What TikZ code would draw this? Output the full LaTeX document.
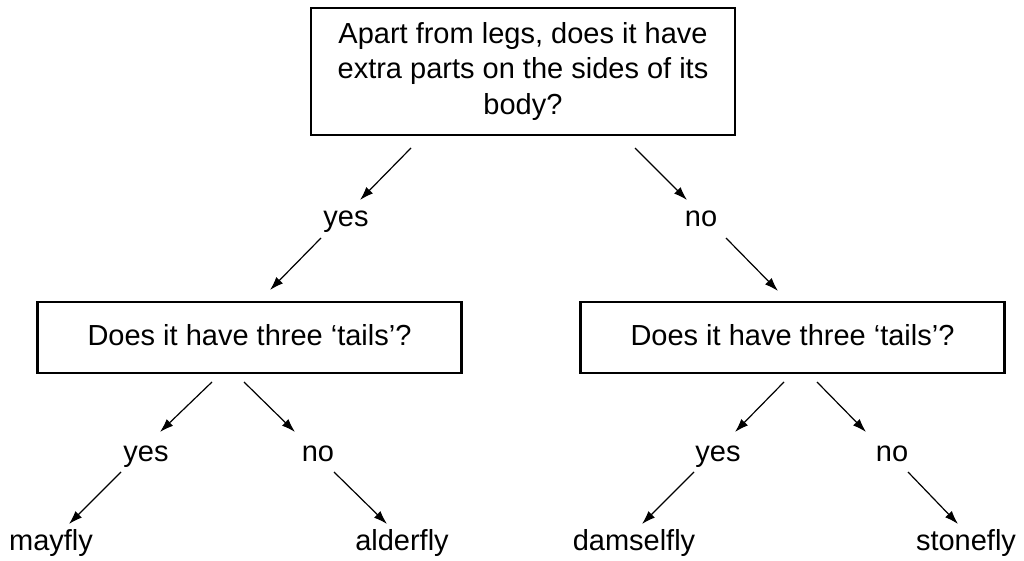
\documentclass[tikz,border=0pt]{standalone}
\usepackage{fontspec}
\setmainfont{Liberation Sans}
\usetikzlibrary{arrows.meta}
\tikzset{
  % boxed question
  question/.style = {
    draw = black,
    line width = 1.3pt,
    rectangle,
    align = center,
    minimum width = 212pt,
    inner sep = 0pt
  },
  % yes / no and the insect names
  answer/.style = {
    text height = 8pt,
    text depth = 0pt,
    inner sep = 0pt
  },
  arr/.style = {
    draw = black,
    line width = 0.6pt,
    -{Latex[length=6.8pt,width=4.6pt]}
  }
}

\begin{document}
\begin{tikzpicture}[x=0.5pt, y=-0.5pt, font=\fontsize{14.5pt}{17.75pt}\selectfont]
    \useasboundingbox (0,0) rectangle (1024,561);

    \node[question, minimum height = 63.5pt] (legs) at (523,71.5)
      {Apart from legs, does it have\\extra parts on the sides of its\\body?};

    \node[answer] (yes1) at (346,219) {yes};
    \node[answer] (no1) at (701,219) {no};

    \node[question, minimum height = 35.5pt, text depth = 3pt] (tails left) at (249.5,337.5)
      {Does it have three ‘tails’?};
    \node[question, minimum height = 35.5pt, text depth = 3pt] (tails right) at (792.5,337.5)
      {Does it have three ‘tails’?};

    \node[answer] (yes2) at (146,453.5) {yes};
    \node[answer] (no2) at (318,453.5) {no};
    \node[answer] (yes3) at (718,453.5) {yes};
    \node[answer] (no3) at (892,453.5) {no};

    \node[answer] (mayfly) at (51,543) {mayfly};
    \node[answer] (alderfly) at (402,543) {alderfly};
    \node[answer] (damselfly) at (634,543) {damselfly};
    \node[answer] (stonefly) at (966,543) {stonefly};

    % arrow ends
    \coordinate (legs-yes1) at (411,148);
    \coordinate (yes1-legs) at (360,200);
    \coordinate (legs-no1) at (635,148);
    \coordinate (no1-legs) at (687,200);

    \coordinate (yes1-tails) at (321,238);
    \coordinate (tails-yes1) at (270,290);
    \coordinate (no1-tails) at (726,238);
    \coordinate (tails-no1) at (778,291);

    \coordinate (tails-yes2) at (212,382);
    \coordinate (yes2-tails) at (160,432);
    \coordinate (tails-no2) at (244,382);
    \coordinate (no2-tails) at (295,432);
    \coordinate (tails-yes3) at (784,382);
    \coordinate (yes3-tails) at (735,432);
    \coordinate (tails-no3) at (817,382);
    \coordinate (no3-tails) at (866,432);

    \coordinate (yes2-mayfly) at (121,472);
    \coordinate (mayfly-yes2) at (69,524);
    \coordinate (no2-alderfly) at (334,472);
    \coordinate (alderfly-no2) at (387,524);
    \coordinate (yes3-damselfly) at (694,472);
    \coordinate (damselfly-yes3) at (642,524);
    \coordinate (no3-stonefly) at (908,472);
    \coordinate (stonefly-no3) at (958,524);

    % first question
    \draw[arr] (legs-yes1) -- (yes1-legs);
    \draw[arr] (legs-no1) -- (no1-legs);
    \draw[arr] (yes1-tails) -- (tails-yes1);
    \draw[arr] (no1-tails) -- (tails-no1);

    % second questions
    \draw[arr] (tails-yes2) -- (yes2-tails);
    \draw[arr] (tails-no2) -- (no2-tails);
    \draw[arr] (tails-yes3) -- (yes3-tails);
    \draw[arr] (tails-no3) -- (no3-tails);

    \draw[arr] (yes2-mayfly) -- (mayfly-yes2);
    \draw[arr] (no2-alderfly) -- (alderfly-no2);
    \draw[arr] (yes3-damselfly) -- (damselfly-yes3);
    \draw[arr] (no3-stonefly) -- (stonefly-no3);
\end{tikzpicture}
\end{document}
